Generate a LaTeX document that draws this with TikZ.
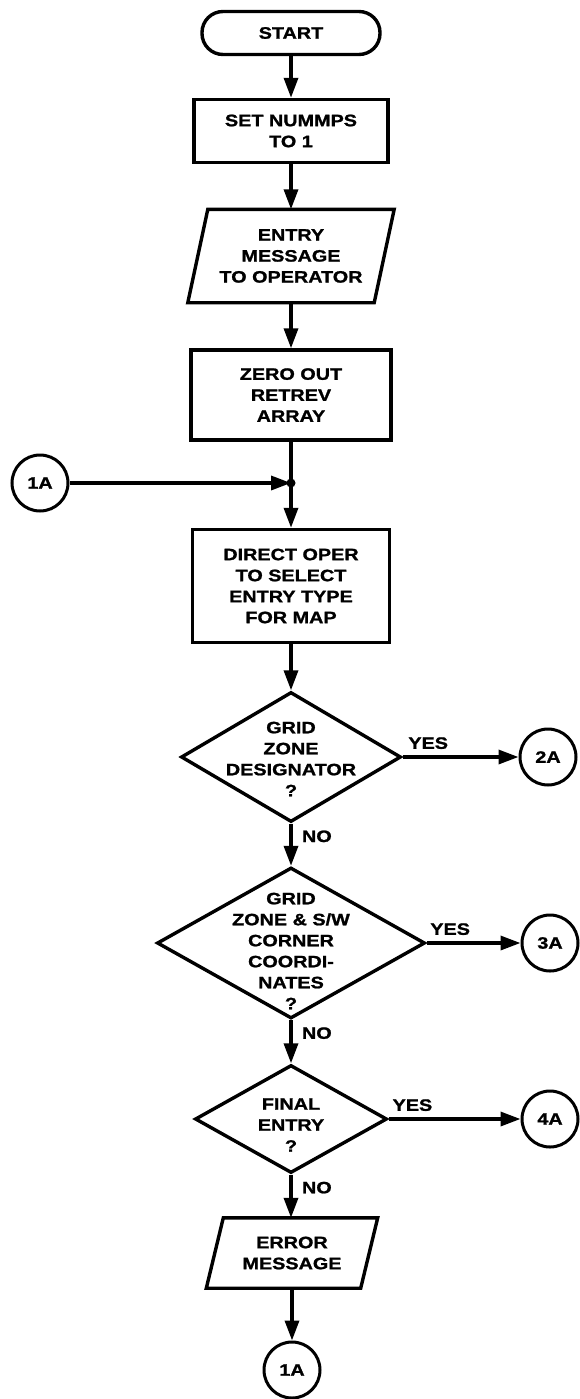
\documentclass[tikz,border=0pt]{standalone}
\usepackage{fontspec}
\setmainfont{Liberation Sans}[FakeStretch=1.2, BoldFeatures={FakeBold=1.2}]
\usetikzlibrary{shapes.geometric,arrows.meta}

\begin{document}
\begin{tikzpicture}[x=1pt, y=-1pt,
    every node/.style={font=\bfseries\fontsize{16.5}{21}\selectfont, align=center},
    terminal/.style={draw, line width=3.4pt, rounded corners=21pt, minimum width=178pt, minimum height=43pt},
    process/.style={draw, line width=3.4pt, inner sep=0pt},
    io/.style={inner sep=0pt},
    decision/.style={diamond, draw, line width=3.4pt, inner sep=0pt},
    conn/.style={circle, draw, line width=3pt, minimum size=56pt, inner sep=0pt},
    line/.style={line width=3.4pt},
    flow/.style={line width=3.4pt, -{Triangle[length=20pt,width=14pt]}}]
  \useasboundingbox (0,0) rectangle (579,1399);
  \node [terminal] (start) at (291,33) {START};
  \node [process, minimum width=194pt, minimum height=63pt] (nummps) at (291,131) {SET NUMMPS\\TO 1};
  \node [io, minimum width=186pt, minimum height=93pt] (entrymsg) at (291,256) {ENTRY\\MESSAGE\\TO OPERATOR};
  \node [process, minimum width=200pt, minimum height=90pt] (zero) at (291,395) {ZERO OUT\\RETREV\\ARRAY};
  \coordinate (join) at (291,483);
  \node [conn] (in1a) at (40,483) {1A};
  \node [process, minimum width=197pt, minimum height=113pt] (select) at (291,586) {DIRECT OPER\\TO SELECT\\ENTRY TYPE\\FOR MAP};
  \node [decision, minimum width=220pt, minimum height=130pt,
    label={[yshift=-2pt]center:GRID\\ZONE\\DESIGNATOR\\?}] (gzd) at (291,757) {};
  \node [conn] (out2a) at (548,757) {2A};
  \node [decision, minimum width=268pt, minimum height=151pt,
    label={[yshift=-8pt]center:GRID\\ZONE \& S/W\\CORNER\\COORDI-\\NATES\\?}] (gzsw) at (291,943) {};
  \node [conn] (out3a) at (550,943) {3A};
  \node [decision, minimum width=192pt, minimum height=108pt,
    label={[yshift=-6pt]center:FINAL\\ENTRY\\?}] (final) at (291,1119) {};
  \node [conn] (out4a) at (550,1119) {4A};
  \node [io, minimum width=154pt, minimum height=70pt] (errmsg) at (292,1253) {ERROR\\MESSAGE};
  \node [conn] (back1a) at (292,1370) {1A};

  % slanted input/output boxes
  \foreach \n/\s in {entrymsg/10, errmsg/8.5}
  {
    \draw [line, line join=miter] ([xshift=\s pt]\n.north west) -- ([xshift=\s pt]\n.north east)
      -- ([xshift=-\s pt]\n.south east) -- ([xshift=-\s pt]\n.south west) -- cycle;
  }

  \draw [flow] (start) -- (nummps);
  \draw [flow] (nummps) -- (entrymsg);
  \draw [flow] (entrymsg) -- (zero);
  \draw [line] (zero) -- (join);
  \draw [flow] (in1a) -- (join);
  \fill (join) circle (4.5);
  \draw [flow] (join) -- (select);
  \draw [flow] (select) -- (gzd);
  \foreach \a/\b in {gzd/gzsw, gzsw/final}
  {
    \draw [flow] (\a) -- node [pos=0.3, right=6pt] {NO} (\b);
  }
  \draw [flow] (final) -- node [pos=0.3, right=6pt] {NO} (errmsg.north -| final);
  \foreach \d/\c/\p in {gzd/out2a/0.22, gzsw/out3a/0.25, final/out4a/0.18}
  {
    \draw [flow] (\d.east) -- node [pos=\p, above=3pt] {YES} (\c);
  }
  \draw [flow] (errmsg.south -| back1a) -- (back1a);
\end{tikzpicture}
\end{document}
